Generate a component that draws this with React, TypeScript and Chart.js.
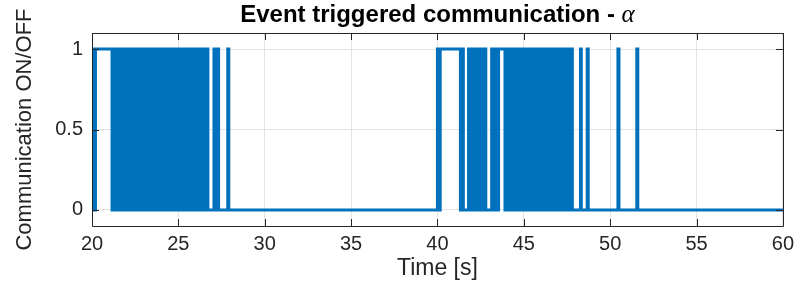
import React, { useEffect, useRef } from "react";
import { Chart, registerables } from "chart.js";

Chart.register(...registerables);

// ---------- data ----------
const titleMain = "Event triggered communication - ";
const titleSymbol = "α";
const xAxisLabel = "Time [s]";
const yAxisLabel = "Communication ON/OFF";

const xTickValues = [20, 25, 30, 35, 40, 45, 50, 55, 60];
const yTickValues = [0, 0.5, 1];

const timeStart = 20;
const timeEnd = 60;
const startValue = 0;

// switching instants (s); every instant toggles ON/OFF
const burstStart = [20.0, 20.1, 20.2];
const burstDense1 = [
  21.16, 21.25, 21.34, 21.43, 21.52, 21.61, 21.69, 21.78, 21.87, 21.96,
  22.05, 22.14, 22.23, 22.32, 22.41, 22.49, 22.58, 22.67, 22.76, 22.85,
  22.94, 23.03, 23.12, 23.2, 23.29, 23.38, 23.47, 23.56, 23.65, 23.74,
  23.83, 23.91, 24.0, 24.09, 24.18, 24.27, 24.36, 24.45, 24.54, 24.62,
  24.71, 24.8, 24.89, 24.98, 25.07, 25.16, 25.25, 25.33, 25.42, 25.51,
  25.6, 25.69, 25.78, 25.87, 25.96, 26.04, 26.13, 26.22, 26.31, 26.4,
  26.49, 26.58, 26.71,
];
const burstTail1 = [27.06, 27.15, 27.24, 27.33, 27.86, 27.92];
const burstRestart = [40.0, 40.08, 40.16];
const burstBar2a = [41.33, 41.41, 41.5];
const burstBar2b = [41.8, 41.89, 41.98, 42.07, 42.16, 42.25, 42.34, 42.43, 42.52, 42.61, 42.7, 42.8];
const burstBar2c = [43.14, 43.23, 43.32, 43.41, 43.54];
const burstDense2 = [
  43.91, 44.0, 44.09, 44.18, 44.27, 44.35, 44.44, 44.53, 44.62, 44.71,
  44.8, 44.88, 44.97, 45.06, 45.15, 45.24, 45.33, 45.41, 45.5, 45.59,
  45.68, 45.77, 45.86, 45.94, 46.03, 46.12, 46.21, 46.3, 46.39, 46.47,
  46.56, 46.65, 46.74, 46.83, 46.92, 47.0, 47.09, 47.18, 47.27, 47.36,
  47.45, 47.53, 47.62, 47.71, 47.81,
];
const burstTail2 = [48.28, 48.33, 48.67, 48.73, 50.45, 50.51, 51.54, 51.6];

// ---------- style ----------
const LINE_COLOR = "#0072BD";
const TEXT_COLOR = "#262626";
const GRID_COLOR = "#e3e3e3";
const FONT = "'Liberation Sans', Arial, Helvetica, sans-serif";

function buildPoints() {
  const switches = [
    ...burstStart,
    ...burstDense1,
    ...burstTail1,
    ...burstRestart,
    ...burstBar2a,
    ...burstBar2b,
    ...burstBar2c,
    ...burstDense2,
    ...burstTail2,
  ];
  let s = startValue;
  const pts = [{ x: timeStart, y: s }];
  for (const t of switches) {
    s = 1 - s;
    pts.push({ x: t, y: s });
  }
  pts.push({ x: timeEnd, y: s });
  return pts;
}

const framePlugin = {
  id: "matlabFrame",
  afterDraw(chart: any) {
    const { ctx, chartArea } = chart;
    const { left, right, top, bottom } = chartArea;
    const xs = chart.scales.x;
    const ys = chart.scales.y;
    ctx.save();
    ctx.strokeStyle = TEXT_COLOR;
    ctx.lineWidth = 1;
    ctx.beginPath();
    ctx.rect(Math.round(left) + 0.5, Math.round(top) + 0.5, Math.round(right - left), Math.round(bottom - top));
    ctx.stroke();
    const tl = 7;
    ctx.beginPath();
    for (const v of xTickValues) {
      const px = Math.round(xs.getPixelForValue(v)) + 0.5;
      ctx.moveTo(px, bottom);
      ctx.lineTo(px, bottom - tl);
      ctx.moveTo(px, top);
      ctx.lineTo(px, top + tl);
    }
    for (const v of yTickValues) {
      const py = Math.round(ys.getPixelForValue(v)) + 0.5;
      ctx.moveTo(left, py);
      ctx.lineTo(left + tl, py);
      ctx.moveTo(right, py);
      ctx.lineTo(right - tl, py);
    }
    ctx.stroke();

    // title with italic alpha
    const boldFont = `bold 24px ${FONT}`;
    const symFont = `italic 25px 'Liberation Serif', 'DejaVu Serif', serif`;
    ctx.font = boldFont;
    const w1 = ctx.measureText(titleMain).width;
    ctx.font = symFont;
    const w2 = ctx.measureText(titleSymbol).width;
    const cx = (left + right) / 2;
    const x0 = cx - (w1 + w2) / 2;
    const ty = 15;
    ctx.fillStyle = "#000";
    ctx.textBaseline = "middle";
    ctx.textAlign = "left";
    ctx.font = boldFont;
    ctx.fillText(titleMain, x0, ty);
    ctx.font = symFont;
    ctx.fillText(titleSymbol, x0 + w1, ty);
    ctx.restore();
  },
};

export default function App() {
  const ref = useRef<HTMLCanvasElement | null>(null);
  useEffect(() => {
    if (!ref.current) return;
    const chart = new Chart(ref.current, {
      type: "line",
      data: {
        datasets: [
          {
            data: buildPoints(),
            borderColor: LINE_COLOR,
            backgroundColor: LINE_COLOR,
            borderWidth: 3,
            pointRadius: 0,
            stepped: true,
            fill: false,
            tension: 0,
          },
        ],
      },
      options: {
        animation: false,
        responsive: false,
        devicePixelRatio: 1,
        parsing: false,
        layout: { padding: { top: 33, right: 14, left: 0, bottom: 0 } },
        plugins: {
          legend: { display: false },
          title: { display: false },
          tooltip: { enabled: false },
        },
        scales: {
          x: {
            type: "linear",
            min: timeStart,
            max: timeEnd,
            afterBuildTicks: (s: any) => {
              s.ticks = xTickValues.map((v) => ({ value: v }));
            },
            afterFit: (s: any) => {
              s.height = 58;
            },
            ticks: {
              color: TEXT_COLOR,
              font: { family: FONT, size: 20 },
              padding: 6,
              maxRotation: 0,
              autoSkip: false,
              callback: (v: any) => String(v),
            },
            grid: { color: GRID_COLOR, drawTicks: false, lineWidth: 1 },
            border: { display: false },
            title: {
              display: true,
              text: xAxisLabel,
              color: TEXT_COLOR,
              font: { family: FONT, size: 23 },
              padding: { top: 0, bottom: 2 },
            },
          },
          y: {
            type: "linear",
            min: -0.1,
            max: 1.1,
            afterBuildTicks: (s: any) => {
              s.ticks = yTickValues.map((v) => ({ value: v }));
            },
            afterFit: (s: any) => {
              s.width = 92;
            },
            ticks: {
              color: TEXT_COLOR,
              font: { family: FONT, size: 20 },
              padding: 9,
              callback: (v: any) => String(v),
            },
            grid: { color: GRID_COLOR, drawTicks: false, lineWidth: 1 },
            border: { display: false },
            title: {
              display: true,
              text: yAxisLabel,
              color: TEXT_COLOR,
              font: { family: FONT, size: 22 },
              padding: { top: 12, bottom: 0 },
            },
          },
        },
      },
      plugins: [framePlugin],
    });
    return () => chart.destroy();
  }, []);

  return (
    <div style={{ position: "fixed", left: 0, top: 0, width: 800, height: 284, background: "#fff" }}>
      <canvas ref={ref} width={800} height={284} style={{ display: "block" }} />
    </div>
  );
}
